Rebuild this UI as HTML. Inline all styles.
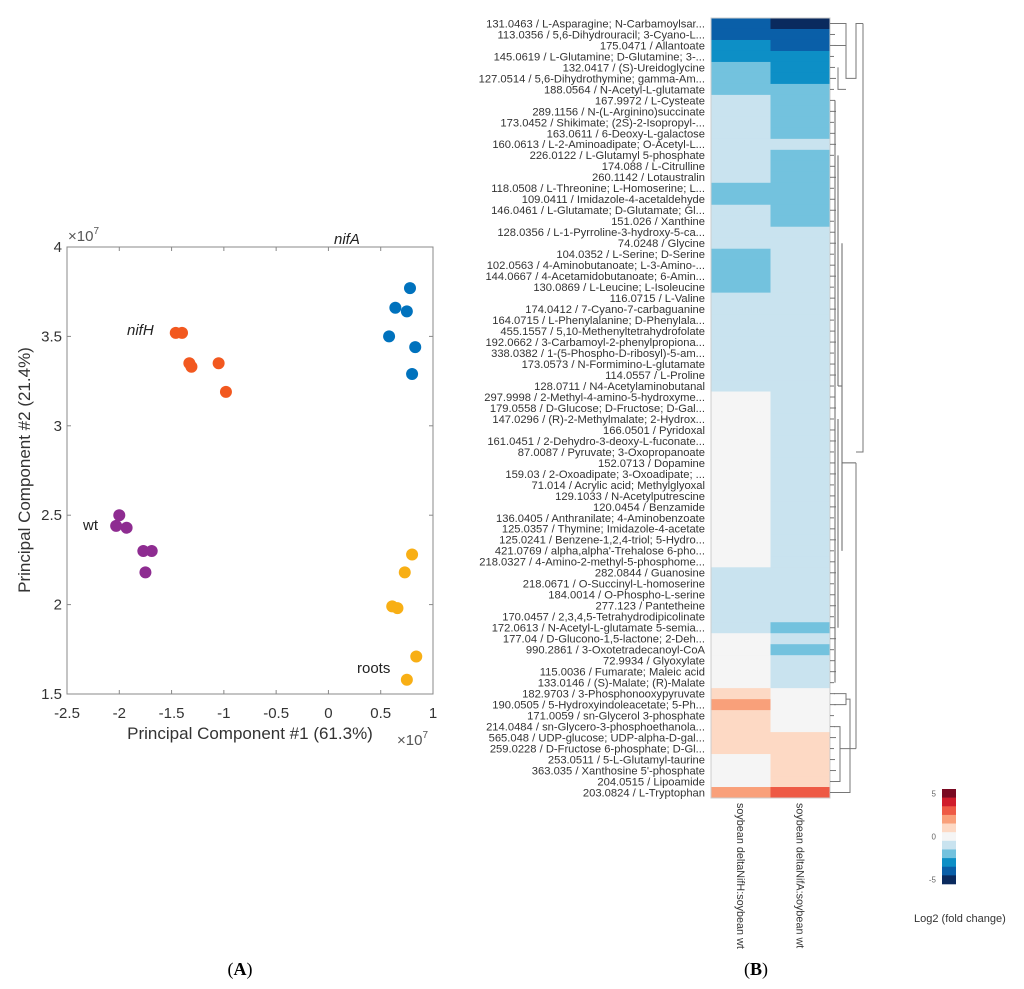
<!DOCTYPE html>
<html><head><meta charset="utf-8"><style>
body{margin:0;background:#fff;width:1024px;height:989px;overflow:hidden;font-family:"Liberation Sans",sans-serif}
svg{position:absolute;left:0;top:0}
</style></head><body>
<svg id="s" width="1024" height="989" xmlns="http://www.w3.org/2000/svg"></svg>
<script>
// ---- PCA data ----
const groupNames=['nifH','nifA','wt','roots'];
const groupColors=['#f2581f','#0072bd','#8e2c91','#f8af15'];
const pc1=[[-1.46,-1.40,-1.33,-1.31,-1.05,-0.98],[0.58,0.64,0.75,0.78,0.80,0.83],[-2.00,-2.03,-1.93,-1.77,-1.69,-1.75],[0.80,0.73,0.61,0.66,0.84,0.75]];
const pc2=[[3.52,3.52,3.35,3.33,3.35,3.19],[3.50,3.66,3.64,3.77,3.29,3.44],[2.50,2.44,2.43,2.30,2.30,2.18],[2.28,2.18,1.99,1.98,1.71,1.58]];
const xTicks=[-2.5,-2,-1.5,-1,-0.5,0,0.5,1];
const yTicks=[1.5,2,2.5,3,3.5,4];
// ---- Heatmap data ----
const metabolites=["131.0463 / L-Asparagine; N-Carbamoylsar...","113.0356 / 5,6-Dihydrouracil; 3-Cyano-L...","175.0471 / Allantoate","145.0619 / L-Glutamine; D-Glutamine; 3-...","132.0417 / (S)-Ureidoglycine","127.0514 / 5,6-Dihydrothymine; gamma-Am...","188.0564 / N-Acetyl-L-glutamate","167.9972 / L-Cysteate","289.1156 / N-(L-Arginino)succinate","173.0452 / Shikimate; (2S)-2-Isopropyl-...","163.0611 / 6-Deoxy-L-galactose","160.0613 / L-2-Aminoadipate; O-Acetyl-L...","226.0122 / L-Glutamyl 5-phosphate","174.088 / L-Citrulline","260.1142 / Lotaustralin","118.0508 / L-Threonine; L-Homoserine; L...","109.0411 / Imidazole-4-acetaldehyde","146.0461 / L-Glutamate; D-Glutamate; Gl...","151.026 / Xanthine","128.0356 / L-1-Pyrroline-3-hydroxy-5-ca...","74.0248 / Glycine","104.0352 / L-Serine; D-Serine","102.0563 / 4-Aminobutanoate; L-3-Amino-...","144.0667 / 4-Acetamidobutanoate; 6-Amin...","130.0869 / L-Leucine; L-Isoleucine","116.0715 / L-Valine","174.0412 / 7-Cyano-7-carbaguanine","164.0715 / L-Phenylalanine; D-Phenylala...","455.1557 / 5,10-Methenyltetrahydrofolate","192.0662 / 3-Carbamoyl-2-phenylpropiona...","338.0382 / 1-(5-Phospho-D-ribosyl)-5-am...","173.0573 / N-Formimino-L-glutamate","114.0557 / L-Proline","128.0711 / N4-Acetylaminobutanal","297.9998 / 2-Methyl-4-amino-5-hydroxyme...","179.0558 / D-Glucose; D-Fructose; D-Gal...","147.0296 / (R)-2-Methylmalate; 2-Hydrox...","166.0501 / Pyridoxal","161.0451 / 2-Dehydro-3-deoxy-L-fuconate...","87.0087 / Pyruvate; 3-Oxopropanoate","152.0713 / Dopamine","159.03 / 2-Oxoadipate; 3-Oxoadipate; ...","71.014 / Acrylic acid; Methylglyoxal","129.1033 / N-Acetylputrescine","120.0454 / Benzamide","136.0405 / Anthranilate; 4-Aminobenzoate","125.0357 / Thymine; Imidazole-4-acetate","125.0241 / Benzene-1,2,4-triol; 5-Hydro...","421.0769 / alpha,alpha'-Trehalose 6-pho...","218.0327 / 4-Amino-2-methyl-5-phosphome...","282.0844 / Guanosine","218.0671 / O-Succinyl-L-homoserine","184.0014 / O-Phospho-L-serine","277.123 / Pantetheine","170.0457 / 2,3,4,5-Tetrahydrodipicolinate","172.0613 / N-Acetyl-L-glutamate 5-semia...","177.04 / D-Glucono-1,5-lactone; 2-Deh...","990.2861 / 3-Oxotetradecanoyl-CoA","72.9934 / Glyoxylate","115.0036 / Fumarate; Maleic acid","133.0146 / (S)-Malate; (R)-Malate","182.9703 / 3-Phosphonooxypyruvate","190.0505 / 5-Hydroxyindoleacetate; 5-Ph...","171.0059 / sn-Glycerol 3-phosphate","214.0484 / sn-Glycero-3-phosphoethanola...","565.048 / UDP-glucose; UDP-alpha-D-gal...","259.0228 / D-Fructose 6-phosphate; D-Gl...","253.0511 / 5-L-Glutamyl-taurine","363.035 / Xanthosine 5'-phosphate","204.0515 / Lipoamide","203.0824 / L-Tryptophan"];
const nifHvals=[-4,-4,-3,-3,-2,-2,-2,-1,-1,-1,-1,-1,-1,-1,-1,-2,-2,-1,-1,-1,-1,-2,-2,-2,-2,-1,-1,-1,-1,-1,-1,-1,-1,-1,0,0,0,0,0,0,0,0,0,0,0,0,0,0,0,0,-1,-1,-1,-1,-1,-1,0,0,0,0,0,1,2,1,1,1,1,0,0,0,2];
const nifAvals=[-5,-4,-4,-3,-3,-3,-2,-2,-2,-2,-2,-1,-2,-2,-2,-2,-2,-2,-2,-1,-1,-1,-1,-1,-1,-1,-1,-1,-1,-1,-1,-1,-1,-1,-1,-1,-1,-1,-1,-1,-1,-1,-1,-1,-1,-1,-1,-1,-1,-1,-1,-1,-1,-1,-1,-2,-1,-2,-1,-1,-1,0,0,0,0,1,1,1,1,1,3];
const columns=["soybean deltaNifH:soybean wt","soybean deltaNifA:soybean wt"];
const scaleLevels=[-5,-4,-3,-2,-1,0,1,2,3,4,5];
const scaleColors=['#0a2a5e','#0a5fa8','#0d8fc6','#73c2de','#c9e3ef','#f5f5f5','#fdd9c4','#f9a07a','#ee5a45','#d01c2b','#7a0a22'];
const cbTicks=[5,0,-5];

const NS='http://www.w3.org/2000/svg', S=document.getElementById('s');
function mk(t,a,p){const e=document.createElementNS(NS,t);for(const k in a)e.setAttribute(k,a[k]);(p||S).appendChild(e);return e;}
function tx(x,y,s,a){const e=mk('text',Object.assign({x:x,y:y},a));e.textContent=s;return e;}

// ---- PCA ----
const L=67,R=433,T=247,B=694;
const sx=v=>L+(v+2.5)/3.5*(R-L), sy=v=>B-(v-1.5)/2.5*(B-T);
const gA=mk('g',{});


const frame=mk('rect',{x:L,y:T,width:R-L,height:B-T,fill:'none',stroke:'#888','stroke-width':1},gA);


xTicks.forEach(v=>{const x=sx(v);
 mk('line',{x1:x,y1:B,x2:x,y2:B-4,stroke:'#888'},gA);mk('line',{x1:x,y1:T,x2:x,y2:T+4,stroke:'#888'},gA);
 const t=tx(x,B+24,String(v),{'font-size':15,fill:'#333','text-anchor':'middle'},);gA.appendChild(t);
 
 });
yTicks.forEach(v=>{const y=sy(v);
 mk('line',{x1:L,y1:y,x2:L+4,y2:y,stroke:'#888'},gA);mk('line',{x1:R,y1:y,x2:R-4,y2:y,stroke:'#888'},gA);
 const t=tx(L-5,y+5,String(v),{'font-size':15,fill:'#333','text-anchor':'end'});gA.appendChild(t);
 
 });
groupNames.forEach((g,i)=>{pc1[i].forEach((v,j)=>{
 const c=mk('circle',{cx:sx(v),cy:sy(pc2[i][j]),r:6,fill:groupColors[i]},gA);
 
 });});
const lbl=[['nifA',334,244,1],['nifH',127,335,1],['wt',83,530,0],['roots',357,673,0]];
lbl.forEach(l=>{const t=tx(l[1],l[2],l[0],{'font-size':15,fill:'#222','font-style':l[3]?'italic':'normal'});
 
 });
let t=tx(68,241,'×10',{'font-size':15,fill:'#555'});mk('tspan',{'font-size':10,dy:-7},t).textContent='7';

t=tx(397,745,'×10',{'font-size':15,fill:'#555'});mk('tspan',{'font-size':10,dy:-7},t).textContent='7';

t=tx(250,739,'Principal Component #1 (61.3%)',{'font-size':17,fill:'#333','text-anchor':'middle'});

t=tx(0,0,'Principal Component #2 (21.4%)',{'font-size':17,fill:'#333','text-anchor':'middle',transform:'translate(30,470) rotate(-90)'});

t=tx(240,975,'(',{'font-size':18,fill:'#000','font-family':'Liberation Serif','text-anchor':'middle'});
mk('tspan',{'font-weight':'bold'},t).textContent='A';t.appendChild(document.createTextNode(')'));


// ---- Heatmap ----
const HT=18,HB=798,HX=711,CW=59.5,RH=(HB-HT)/metabolites.length;
const col=v=>scaleColors[scaleLevels.indexOf(Math.max(-5,Math.min(5,v)))];
const gH=mk('g',{});


[nifHvals,nifAvals].forEach((arr,c)=>arr.forEach((v,r)=>{
 const e=mk('rect',{x:HX+c*CW,y:HT+r*RH,width:CW+0.5,height:RH+0.5,fill:col(v)},gH);
 
 }));
metabolites.forEach((m,r)=>{const e=tx(705,HT+r*RH+RH/2+3.9,m,{'font-size':11.2,fill:'#333','text-anchor':'end'});
 
 });
mk('rect',{x:HX,y:HT,width:2*CW,height:HB-HT,fill:'none',stroke:'#ccc','stroke-width':1});
columns.forEach((c,i)=>{const e=tx(0,0,c,{'font-size':10.8,fill:'#333',transform:'translate('+(HX+CW*i+CW/2-4)+',803) rotate(90)'});
 
 });
// dendrogram (schematic)
const gD=mk('g',{stroke:'#777','stroke-width':1,fill:'none'});


const ry=r=>HT+r*RH+RH/2;
for(let r=0;r<metabolites.length;r++){mk('line',{x1:830,y1:ry(r),x2:834+(r%3),y2:ry(r)},gD);}
mk('path',{d:`M834 ${ry(0)}H846V${ry(2)}M834 ${ry(2)}H846 M838 ${ry(4)}V${ry(6)}H846 M846 ${ry(1)}V${ry(5)}H856V${ry(0)}H863`},gD);
mk('path',{d:`M835 ${ry(7)}V${ry(60)} M838 ${ry(12)}V${ry(33)} M838 ${ry(36)}V${ry(55)} M842 ${ry(20)}V${ry(48)} M838 ${ry(33)}H842 M842 ${ry(40)}H856`,stroke:'#666'},gD);
mk('path',{d:`M834 ${ry(61)}H846V${ry(62)}H834 M834 ${ry(64)}H840V${ry(69)}H834 M840 ${ry(66)}H850 M846 ${ry(61.5)}H850V${ry(70)}H834 M850 ${ry(66)}H856 M856 ${ry(40)}V${ry(66)} M856 ${ry(39)}H863V${ry(0)}`},gD);
// colorbar
const gC=mk('g',{});


const CT=789,CBH=95/11;
scaleColors.slice().reverse().forEach((c,i)=>{const e=mk('rect',{x:942,y:CT+i*CBH,width:14,height:CBH+0.3,fill:c},gC);
 
 });
cbTicks.forEach(v=>{const i=10-scaleLevels.indexOf(v);const e=tx(936,CT+i*CBH+CBH/2+3,String(v),{'font-size':8,fill:'#666','text-anchor':'end'},);
 
 });
t=tx(914,922,'Log2 (fold change)',{'font-size':11,fill:'#333'});

t=tx(756,975,'(',{'font-size':18,fill:'#000','font-family':'Liberation Serif','text-anchor':'middle'});
mk('tspan',{'font-weight':'bold'},t).textContent='B';t.appendChild(document.createTextNode(')'));

</script>
</body></html>
